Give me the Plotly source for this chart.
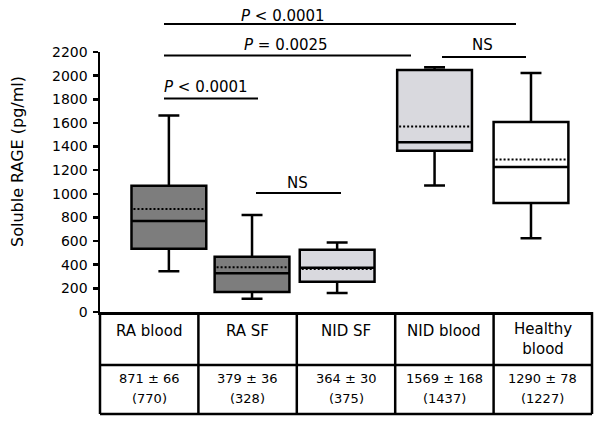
import plotly.graph_objects as go

# ---- data ----
categories = ["RA blood", "RA SF", "NID SF", "NID blood", "Healthy<br>blood"]
lower_whisker = [344, 113, 161, 1071, 623]
q1_values = [536, 169, 256, 1365, 922]
medians = [770, 328, 375, 1437, 1227]
q3_values = [1069, 468, 527, 2048, 1608]
upper_whisker = [1663, 821, 589, 2070, 2022]
means = [871, 379, 364, 1569, 1290]
sems = [66, 36, 30, 168, 78]
y_ticks = list(range(0, 2201, 200))

# ---- layout / style (not data) ----
box_pos = [0.70, 1.545, 2.41, 3.40, 4.38]
box_width = 0.76
fills = ["#7d7d7d", "#7d7d7d", "#d9d9de", "#d9d9de", "#ffffff"]
FONT = "DejaVu Sans"
W, H = 600, 423
PL, PR, PT, PB = 100, 592, 52, 312   # plot area edges in pixels
L, R, T, B = PL, W - PR, PT, H - PB
PW, PH = PR - PL, PB - PT
YMAX = 2200
NCOL = 5


def px_y(py):
    """pixel row -> paper y"""
    return (PB - py) / PH


def px_x(px):
    return (px - PL) / PW


fig = go.Figure()

for i in range(len(categories)):
    fig.add_trace(go.Box(
        x=[box_pos[i]], q1=[q1_values[i]], median=[medians[i]], q3=[q3_values[i]],
        lowerfence=[lower_whisker[i]], upperfence=[upper_whisker[i]],
        width=box_width, whiskerwidth=0.28,
        fillcolor=fills[i], line=dict(color="black", width=2.5),
        boxpoints=False, showlegend=False, hoverinfo="skip",
    ))

# mean (dotted) lines
mx, my = [], []
for p, m in zip(box_pos, means):
    mx += [p - box_width / 2 + 0.02, p + box_width / 2 - 0.02, None]
    my += [m, m, None]
fig.add_trace(go.Scatter(x=mx, y=my, mode="lines",
                         line=dict(color="black", width=2, dash="2px,2px"),
                         showlegend=False, hoverinfo="skip"))

shapes = []
annotations = []

# significance bars: (x0px, x1px, line_y_px, text, text_x_px, text_y_px)
sig = [
    (164, 516, 24, "<i>P</i> &lt; 0.0001", 282.5, 16),
    (164, 411, 55.5, "<i>P</i> = 0.0025", 285.5, 45),
    (442, 526, 57, "NS", 482, 45),
    (164, 258, 98.5, "<i>P</i> &lt; 0.0001", 206, 86.5),
    (256, 341, 193, "NS", 297, 182.5),
]
for x0, x1, ly, txt, tx, ty in sig:
    shapes.append(dict(type="line", xref="paper", yref="paper",
                       x0=px_x(x0), x1=px_x(x1), y0=px_y(ly), y1=px_y(ly),
                       line=dict(color="black", width=1.8)))
    annotations.append(dict(text=txt, xref="paper", yref="paper", x=px_x(tx), y=px_y(ty),
                            xanchor="center", yanchor="middle", showarrow=False, borderpad=0,
                            font=dict(family=FONT, size=15, color="black")))

# table below the axis
row_sep = px_y(365)
table_bot = px_y(414)
for c in range(NCOL + 1):
    shapes.append(dict(type="line", xref="paper", yref="paper",
                       x0=c / NCOL, x1=c / NCOL, y0=0, y1=table_bot,
                       line=dict(color="black", width=2.5)))
for yy in (row_sep, table_bot):
    shapes.append(dict(type="line", xref="paper", yref="paper",
                       x0=0, x1=1, y0=yy, y1=yy,
                       line=dict(color="black", width=2.5)))

for c, name in enumerate(categories):
    xc = (c + 0.5) / NCOL
    two = "<br>" in name
    annotations.append(dict(text=name, xref="paper", yref="paper", x=xc,
                            y=px_y(339 if two else 331), xanchor="center", yanchor="middle",
                            showarrow=False, font=dict(family=FONT, size=15, color="black")))
    annotations.append(dict(text=f"{means[c]} ± {sems[c]}", xref="paper", yref="paper", x=xc,
                            y=px_y(378), xanchor="center", yanchor="middle",
                            showarrow=False, font=dict(family=FONT, size=13, color="black")))
    annotations.append(dict(text=f"({medians[c]})", xref="paper", yref="paper", x=xc,
                            y=px_y(398), xanchor="center", yanchor="middle",
                            showarrow=False, font=dict(family=FONT, size=13, color="black")))

# y-axis title
annotations.append(dict(text="Soluble RAGE (pg/ml)", xref="paper", yref="paper",
                        x=px_x(17), y=px_y(162), textangle=-90, xanchor="center", yanchor="middle",
                        showarrow=False, font=dict(family=FONT, size=16, color="black")))

fig.update_layout(
    width=W, height=H,
    margin=dict(l=L, r=R, t=T, b=B, pad=0),
    paper_bgcolor="white", plot_bgcolor="white",
    boxmode="overlay",
    shapes=shapes, annotations=annotations,
    xaxis=dict(range=[0, NCOL], showgrid=False, zeroline=False, showticklabels=False,
               ticks="", showline=True, linecolor="black", linewidth=2.5, fixedrange=True),
    yaxis=dict(range=[0, YMAX], tickvals=y_ticks, ticktext=[str(v) for v in y_ticks],
               showgrid=False, zeroline=False, showline=True, linecolor="black", linewidth=2.5,
               ticks="outside", ticklen=5, tickwidth=2.5, tickcolor="black",
               ticklabelstandoff=2,
               tickfont=dict(family=FONT, size=14, color="black"), fixedrange=True),
)

fig.write_html("out.html", config={"displayModeBar": False, "staticPlot": True},
               post_script="document.body.style.margin='0';document.body.style.overflow='hidden';")
